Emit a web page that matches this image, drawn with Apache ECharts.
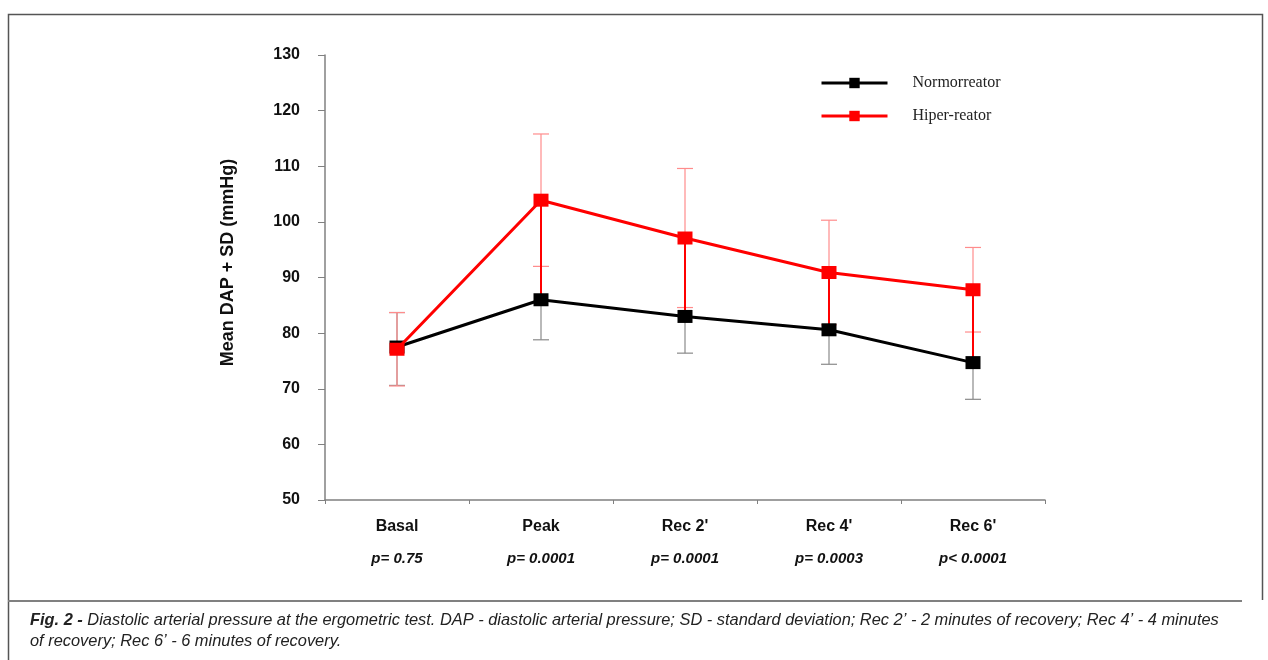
<!DOCTYPE html>
<html><head><meta charset="utf-8">
<script src="https://cdn.jsdelivr.net/npm/echarts@6/dist/echarts.min.js"></script>
<style>html,body{margin:0;padding:0;background:#fff}#c{width:1268px;height:660px}</style>
</head><body><div id="c"></div>
<script>
const categories = ["Basal", "Peak", "Rec 2'", "Rec 4'", "Rec 6'"];
const pValues = ["p= 0.75", "p= 0.0001", "p= 0.0001", "p= 0.0003", "p< 0.0001"];
const normoMean = [77.5, 86.0, 83.0, 80.6, 74.7];
const normoSDMinus = [6.9, 7.2, 6.6, 6.2, 6.6];
const normoSDPlus = [6.2, 0, 0, 0, 0];
const hiperMean = [77.1, 103.9, 97.1, 90.9, 87.8];
const hiperSD = [6.6, 11.9, 12.5, 9.4, 7.6];
const yTicks = {min: 50, max: 130, interval: 10};

const chart = echarts.init(document.getElementById('c'));

function errData(mean, minus, plus){ return mean.map((m,i)=>[i, m - minus[i], m + plus[i], m]); }
function errRender(color){
  return function(params, api){
    const x = api.value(0);
    const lo = api.coord([x, api.value(1)]);
    const hi = api.coord([x, api.value(2)]);
    const mid = api.coord([x, api.value(3)]);
    const hw = 8;
    const st = {stroke: color, lineWidth: 1.2};
    const ch = [{type:'line', shape:{x1:lo[0], y1:lo[1], x2:hi[0], y2:hi[1]}, style:st}];
    if (Math.abs(lo[1] - mid[1]) > 0.5) ch.push({type:'line', shape:{x1:lo[0]-hw, y1:lo[1], x2:lo[0]+hw, y2:lo[1]}, style:st});
    if (Math.abs(hi[1] - mid[1]) > 0.5) ch.push({type:'line', shape:{x1:hi[0]-hw, y1:hi[1], x2:hi[0]+hw, y2:hi[1]}, style:st});
    return {type:'group', children: ch};
  };
}
const hiLo = normoMean.map((m,i)=>[i, m, hiperMean[i]]);

const option = {
  animation: false,
  backgroundColor: '#fff',
  grid: {left: 325, right: 223, top: 55, bottom: 160, containLabel: false},
  legend: {
    orient: 'vertical', left: 815, top: 70, itemGap: 17,
    itemWidth: 66, itemHeight: 13,
    lineStyle: {width: 3},
    textStyle: {fontFamily: 'Liberation Serif', fontSize: 16, color: '#222', padding: [0,0,0,20]},
    data: ['Normorreator', 'Hiper-reator']
  },
  xAxis: {
    type: 'category', data: categories, boundaryGap: true,
    axisLine: {lineStyle: {color: '#808080', width: 1.5}},
    axisTick: {show: true, length: 4, lineStyle: {color: '#808080'}},
    axisLabel: {
      margin: 11,
      formatter: (v, i) => '{a|' + v + '}\n{b|' + pValues[i] + '}',
      rich: {
        a: {fontFamily: 'Liberation Sans', fontWeight: 'bold', fontSize: 16, color: '#111', lineHeight: 32},
        b: {fontFamily: 'Liberation Sans', fontWeight: 'bold', fontStyle: 'italic', fontSize: 15, color: '#111', lineHeight: 32}
      }
    }
  },
  yAxis: {
    type: 'value', min: yTicks.min, max: yTicks.max, interval: yTicks.interval,
    name: 'Mean DAP + SD (mmHg)', nameLocation: 'middle', nameGap: 88,
    nameTextStyle: {fontFamily: 'Liberation Sans', fontWeight: 'bold', fontSize: 18, color: '#111', padding: [0,0,0,30]},
    axisLine: {show: true, lineStyle: {color: '#808080', width: 1.5}},
    axisTick: {show: true, length: 7, lineStyle: {color: '#808080'}},
    splitLine: {show: false},
    axisLabel: {fontFamily: 'Liberation Sans', fontWeight: 'bold', fontSize: 16, color: '#111', margin: 25}
  },
  series: [
    {type: 'custom', name: 'normoErr', renderItem: errRender('#8a8a8a'), data: errData(normoMean, normoSDMinus, normoSDPlus), z: 1, silent: true},
    {type: 'custom', name: 'hiperErr', renderItem: errRender('#ff8c8c'), data: errData(hiperMean, hiperSD, hiperSD), z: 2, silent: true},
    {type: 'custom', name: 'hilo', data: hiLo, z: 3, silent: true,
      renderItem: function(params, api){
        const x = api.value(0);
        const a = api.coord([x, api.value(1)]);
        const b = api.coord([x, api.value(2)]);
        return {type:'line', shape:{x1:a[0], y1:a[1], x2:b[0], y2:b[1]}, style:{stroke:'#ff0000', lineWidth:2}};
      }},
    {type: 'line', name: 'Normorreator', data: normoMean, z: 4,
      symbol: 'rect', symbolSize: [15, 13], showAllSymbol: true,
      lineStyle: {color: '#000', width: 3}, itemStyle: {color: '#000'}},
    {type: 'line', name: 'Hiper-reator', data: hiperMean, z: 5,
      symbol: 'rect', symbolSize: [15, 13], showAllSymbol: true,
      lineStyle: {color: '#ff0000', width: 3}, itemStyle: {color: '#ff0000'}}
  ],
  graphic: [
    {type: 'polyline', shape: {points: [[8.5, 660], [8.5, 14.5], [1262.5, 14.5], [1262.5, 600]]}, style: {stroke: '#555', fill: null, lineWidth: 1.5}},
    {type: 'line', shape: {x1: 8, y1: 601, x2: 1242, y2: 601}, style: {stroke: '#808080', lineWidth: 2}},
    {type: 'text', left: 30, top: 612, style: {
      text: '{b|Fig. 2 - }{n|Diastolic arterial pressure at the ergometric test. DAP - diastolic arterial pressure; SD - standard deviation; Rec 2’ - 2 minutes of recovery; Rec 4’ - 4 minutes}\n{n|of recovery; Rec 6’ - 6 minutes of recovery.}',
      rich: {
        b: {fontFamily: 'Liberation Sans', fontStyle: 'italic', fontWeight: 'bold', fontSize: 16.4, fill: '#222', lineHeight: 21},
        n: {fontFamily: 'Liberation Sans', fontStyle: 'italic', fontSize: 16.4, fill: '#222', lineHeight: 21}
      }
    }}
  ]
};
chart.setOption(option);
</script></body></html>
